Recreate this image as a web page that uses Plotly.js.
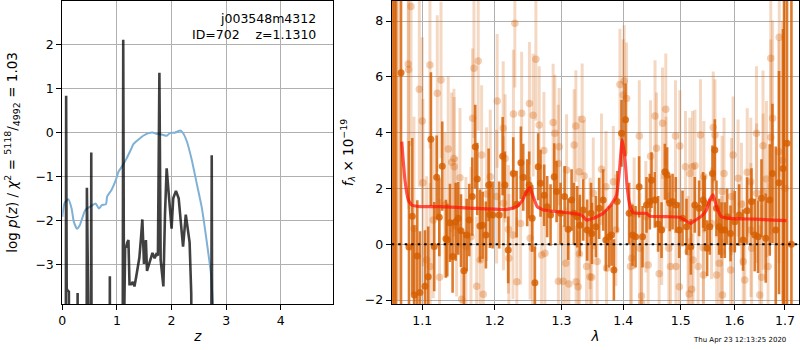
<!DOCTYPE html>
<html>
<head>
<meta charset="utf-8">
<script src="https://cdn.plot.ly/plotly-3.0.1.min.js"></script>
<style>body{margin:0;padding:0;background:#fff}#plot{width:800px;height:350px}</style>
</head>
<body>
<div id="plot"></div>
<script>
// ---- Left panel: redshift probability ----
const zPz = [0.00,0.060,0.070,0.080,0.100,0.120,0.135,0.270,0.280,0.290,0.440,0.450,0.460,0.520,0.530,0.540,0.860,0.870,0.880,1.060,1.080,1.100,1.115,1.130,1.150,1.170,1.190,1.210,1.230,1.260,1.290,1.320,1.350,1.380,1.410,1.440,1.465,1.495,1.530,1.550,1.600,1.650,1.690,1.720,1.750,1.777,1.800,1.820,1.850,1.880,1.910,1.960,2.000,2.030,2.080,2.130,2.170,2.210,2.260,2.300,2.330,2.360,2.380,2.720,2.735,2.750,4.960];
const logPz = [-9,-9,0.83,-3.55,-3.6,-3.62,-9,-9,-3.65,-9,-9,-1.26,-9,-9,-0.46,-9,-9,-3.27,-9,-9,-3.9,-9,2.10,-4.5,-2.6,-2.6,-2.5,-2.45,-3.45,-3.45,-3.4,-3.5,-3.3,-3.05,-2.85,-2.4,-1.98,-2.99,-2.45,-3.15,-2.93,-2.74,-2.86,-2.77,-2.8,1.35,-2.9,-3.1,-3.5,-1.84,-0.82,-1.58,-2.19,-1.5,-1.33,-1.5,-2.1,-2.6,-1.87,-2.2,-2.5,-3.66,-9,-9,-0.52,-9,-9];
const zChi = [0,0.04,0.11,0.17,0.21,0.27,0.32,0.42,0.51,0.61,0.67,0.72,0.80,0.82,0.90,0.98,1.03,1.09,1.17,1.26,1.30,1.39,1.48,1.58,1.67,1.74,1.82,1.91,1.97,2.06,2.16,2.20,2.28,2.37,2.46,2.55,2.64,2.72,2.77];
const chiScaled = [-1.92,-1.61,-1.52,-1.73,-2.03,-2.19,-2.11,-1.77,-1.69,-1.62,-1.73,-1.66,-1.63,-1.46,-1.31,-1.08,-0.89,-0.78,-0.61,-0.38,-0.27,-0.17,-0.08,-0.02,-0.01,-0.04,-0.05,-0.08,-0.02,-0.01,0.04,0.0,-0.21,-0.63,-1.16,-1.69,-2.45,-3.21,-4.2];
const zTicks = [0,1,2,3,4];
const logpTicks = [-3,-2,-1,0,1,2];

// ---- Right panel: G141 spectrum ----
const lamG = [1.0615,1.0640,1.0660,1.0723,1.0826,1.0869,1.0895,1.0934,1.0970,1.1036,1.1079,1.1115,1.1159,1.1192,1.1227,1.1267,1.1317,1.1335,1.1372,1.1408,1.1450,1.1485,1.1523,1.1564,1.1602,1.1638,1.1680,1.1722,1.1750,1.1788,1.1826,1.1873,1.1912,1.1930,1.1969,1.2064,1.2114,1.2147,1.2195,1.2269,1.2319,1.2382,1.2417,1.2476,1.2506,1.2551,1.2592,1.2642,1.2678,1.2733,1.2779,1.2831,1.2887,1.2924,1.2986,1.3049,1.3105,1.3159,1.3195,1.3247,1.3290,1.3343,1.3407,1.3470,1.3485,1.3548,1.3602,1.3667,1.3711,1.3766,1.3806,1.3844,1.3899,1.3972,1.4039,1.4100,1.4158,1.4209,1.4270,1.4329,1.4397,1.4454,1.4484,1.4541,1.4599,1.4659,1.4717,1.4758,1.4805,1.4854,1.4912,1.4972,1.5033,1.5105,1.5183,1.5256,1.5335,1.5409,1.5440,1.5483,1.5533,1.5583,1.5627,1.5658,1.5707,1.5753,1.5815,1.5859,1.5924,1.6006,1.6089,1.6166,1.6244,1.6330,1.6394,1.6460,1.6527,1.6612,1.6692,1.6746,1.6813,1.6879,1.6960,1.6981,1.7042,1.7132];
const fluxG = [-10,-10,-10,6.15,-0.10,1.01,-1.82,-0.42,-1.73,-1.50,-1.16,3.77,-0.08,2.40,0.97,2.80,0.20,0.15,0.77,-0.44,0.81,0.93,0.49,-0.95,0.33,0.87,1.71,3.50,2.34,0.66,0.68,0.33,2.13,1.07,1.05,1.05,3.16,2.13,-0.20,2.54,1.44,2.92,2.40,1.85,2.13,0.93,-1.38,2.78,2.19,1.76,1.35,1.05,2.42,1.89,1.11,1.71,0.54,1.59,1.11,0.99,0.68,1.23,0.51,1.11,0.39,0.63,1.29,1.59,0.15,0.27,0.33,-0.92,1.53,3.98,4.46,1.11,0.33,0.27,2.06,0.27,1.41,1.53,2.30,1.59,0.73,0.51,2.60,2.48,1.47,1.53,1.41,0.51,0.93,0.63,-0.09,1.41,1.29,1.59,1.47,-0.14,0.63,2.54,3.38,1.29,0.63,0.51,0.51,0.99,0.39,0.81,1.05,0.15,1.20,1.53,0.33,0.27,1.65,0.22,1.59,2.54,0.51,2.21,2.72,-10,3.62,0.00];
const errG = [40,40,40,20,3.8,2.8,2.5,2.0,2.2,2.0,1.8,2.4,1.6,1.5,1.4,1.6,1.4,1.3,1.4,1.3,1.4,1.3,1.3,1.4,1.3,1.3,1.4,1.5,1.3,1.3,1.2,1.2,1.3,1.2,1.2,1.2,1.4,1.2,1.2,1.3,1.2,1.3,1.2,1.2,1.2,1.2,1.3,1.2,1.2,1.1,1.1,1.1,1.2,1.1,1.1,1.1,1.1,1.1,1.1,1.1,1.1,1.1,1.1,1.1,1.1,1.1,1.1,1.1,1.1,1.1,1.1,1.1,1.1,1.2,1.3,1.1,1.1,1.1,1.1,1.1,1.0,1.0,1.0,1.0,1.0,1.0,1.0,1.0,1.0,1.0,1.0,1.0,1.0,1.0,1.0,1.0,1.0,1.0,1.0,1.0,1.0,1.0,1.1,1.0,1.0,1.0,1.0,1.0,1.0,1.1,1.1,1.1,1.2,1.2,1.3,1.3,1.4,1.6,2.0,2.5,3.0,4.0,5.0,40,40,40];

const lamL = [1.0640,1.0690,1.0817,1.0822,1.0852,1.0891,1.0961,1.1000,1.1009,1.1058,1.1102,1.1105,1.1146,1.1200,1.1230,1.1250,1.1304,1.1348,1.1395,1.1426,1.1430,1.1463,1.1509,1.1532,1.1592,1.1662,1.1685,1.1704,1.1742,1.1764,1.1792,1.1812,1.1835,1.1883,1.1935,1.2027,1.2035,1.2122,1.2126,1.2150,1.2198,1.2205,1.2265,1.2272,1.2293,1.2322,1.2378,1.2393,1.2510,1.2520,1.2557,1.2566,1.2607,1.2657,1.2694,1.2729,1.2744,1.2871,1.2897,1.2949,1.2952,1.2964,1.3027,1.3069,1.3080,1.3116,1.3199,1.3227,1.3230,1.3263,1.3279,1.3283,1.3327,1.3359,1.3398,1.3451,1.3455,1.3480,1.3506,1.3569,1.3640,1.3714,1.3723,1.3835,1.3877,1.3945,1.3999,1.4016,1.4056,1.4123,1.4140,1.4185,1.4273,1.4282,1.4311,1.4314,1.4385,1.4425,1.4467,1.4545,1.4571,1.4617,1.4662,1.4676,1.4734,1.4738,1.4788,1.4818,1.4907,1.4915,1.4975,1.4984,1.5087,1.5133,1.5152,1.5165,1.5199,1.5214,1.5225,1.5259,1.5317,1.5361,1.5412,1.5415,1.5422,1.5565,1.5598,1.5630,1.5661,1.5710,1.5756,1.5763,1.5771,1.5801,1.5927,1.5943,1.5962,1.5973,1.6069,1.6135,1.6169,1.6199,1.6247,1.6316,1.6319,1.6333,1.6428,1.6431,1.6493,1.6530,1.6558,1.6561,1.6626,1.6658,1.6712,1.6715,1.6749,1.6876,1.6883,1.6950,1.7000];
const fluxL = [-10,10,6.46,6.27,8.52,0.57,5.56,4.42,2.21,-0.56,6.43,-0.80,0.87,5.41,-1.18,5.89,1.41,3.42,2.94,3.08,2.78,0.63,2.39,-1.97,-0.09,0.27,4.52,6.31,-1.50,6.57,-0.56,3.20,-1.79,1.80,2.42,1.71,5.14,4.16,1.47,3.08,0.54,-0.50,0.33,4.67,7.92,-1.34,0.75,4.70,5.05,0.22,-0.14,4.63,6.63,4.28,-0.38,3.36,-0.32,4.37,3.98,2.90,-1.32,3.50,-1.32,-0.68,2.66,-1.42,3.56,4.24,-1.34,-1.52,2.60,-0.35,4.48,2.45,-0.80,-1.16,0.39,-1.18,1.83,-0.62,2.69,2.06,-0.86,2.24,0.51,5.73,5.35,5.85,5.23,-0.80,-0.50,1.11,3.88,-0.14,-1.85,-2.10,0.99,-0.74,3.16,4.60,3.44,-1.06,0.54,4.34,4.84,2.57,-0.14,-0.80,3.88,-0.80,-1.52,3.52,2.78,-0.27,-1.78,2.54,-1.61,2.78,-0.56,2.82,-0.80,3.92,-0.12,-1.10,2.42,0.75,4.19,3.92,-1.10,-0.68,-0.27,1.89,-1.82,2.54,-0.92,1.71,-0.14,3.20,2.37,1.44,-0.62,-1.28,2.58,2.24,0.51,-0.14,3.98,1.83,-1.82,-1.18,3.53,1.89,2.34,-0.80,6.67,3.84,4.52,3.32,7.42,3.0,2.0];
const errL = [40,12,5,5,5,4,3.5,3,3,3,3,3,2.8,2.8,2.8,2.8,2.6,2.6,2.5,2.5,2.5,2.5,2.5,2.5,2.5,2.5,2.5,2.5,2.5,2.5,2.5,2.5,2.5,2.4,2.4,2.4,2.4,2.4,2.4,2.3,2.3,2.3,2.3,2.3,2.3,2.3,2.2,2.2,2.2,2.2,2.2,2.2,2.2,2.1,2.1,2.1,2.1,2.1,2.1,2.1,2.1,2.1,2.0,2.0,2.0,2.0,2.0,2.0,2.0,2.0,2.0,2.0,2.0,2.0,2.0,2.0,2.0,2.0,2.0,2.0,2.0,2.0,2.0,2.0,2.0,2.0,2.0,2.0,2.0,2.0,2.0,2.0,2.0,2.0,2.0,2.0,2.0,2.0,2.0,2.0,2.0,2.0,2.0,2.0,2.0,2.0,2.0,2.0,2.0,2.0,2.0,2.0,2.0,2.0,2.0,2.0,2.0,2.0,2.0,2.0,2.0,2.0,2.0,2.0,2.0,2.0,2.0,2.0,2.0,2.0,2.0,2.0,2.0,2.0,2.0,2.1,2.1,2.1,2.1,2.2,2.2,2.2,2.3,2.3,2.4,2.4,2.4,2.5,2.5,2.6,2.7,2.8,2.8,3.0,3.2,3.5,3.5,4,5,5,10,12];

const lamModel = [1.0732,1.0774,1.0817,1.0861,1.0970,1.1236,1.1694,1.2172,1.2319,1.2393,1.2457,1.2517,1.2566,1.2627,1.2718,1.2924,1.3184,1.3317,1.3398,1.3504,1.3667,1.3749,1.3832,1.3889,1.3943,1.3982,1.4027,1.4066,1.4112,1.4168,1.4282,1.4397,1.4454,1.4747,1.4984,1.5074,1.5178,1.5256,1.5379,1.5472,1.5533,1.5595,1.5658,1.5753,1.5910,1.6428,1.6758,1.7030];
const fluxModel = [3.68,2.30,1.59,1.41,1.35,1.35,1.29,1.25,1.35,1.53,1.83,2.03,1.71,1.35,1.23,1.17,1.11,1.05,0.87,0.93,1.11,1.29,1.53,1.77,2.78,3.74,3.14,2.06,1.41,1.13,1.11,1.11,1.01,0.99,0.97,0.87,0.75,0.85,1.01,1.23,1.59,1.77,1.35,0.99,0.93,0.90,0.87,0.85];
const lamTicks = [1.1,1.2,1.3,1.4,1.5,1.6,1.7];
const lamTickText = ['1.1','1.2','1.3','1.4','1.5','1.6','1.7'];
const fluxTicks = [-2,0,2,4,6,8];

const ORANGE = 'rgba(213,94,0,0.82)';
const ORANGE_L = 'rgba(213,94,0,0.24)';
const ORANGE_LM = 'rgba(213,94,0,0.3)';

const traces = [
  {x: zChi, y: chiScaled, xaxis:'x', yaxis:'y', mode:'lines', line:{color:'#7fb1d6', width:2, shape:'spline', smoothing:0.5}, hoverinfo:'skip'},
  {x: zPz, y: logPz, xaxis:'x', yaxis:'y', mode:'lines', line:{color:'rgba(0,0,0,0.75)', width:2.6}, hoverinfo:'skip'},
  {x: lamL, y: fluxL, xaxis:'x2', yaxis:'y2', mode:'markers', marker:{color:ORANGE_LM, size:7.5},
   error_y:{type:'data', array:errL, visible:true, color:ORANGE_L, thickness:3, width:0}, hoverinfo:'skip'},
  {x: lamG, y: fluxG, xaxis:'x2', yaxis:'y2', mode:'markers', marker:{color:ORANGE, size:7},
   error_y:{type:'data', array:errG, visible:true, color:ORANGE, thickness:2.6, width:0}, hoverinfo:'skip'},
  {x: lamModel, y: fluxModel, xaxis:'x2', yaxis:'y2', mode:'lines', line:{color:'rgba(255,20,10,0.72)', width:3.2, shape:'spline', smoothing:0.4}, hoverinfo:'skip'}
];

const axBase = {showline:true, mirror:true, linecolor:'black', linewidth:1, ticks:'outside', ticklen:5, tickwidth:1, tickcolor:'black',
  showgrid:true, gridcolor:'#b0b0b0', gridwidth:1, zeroline:false, tickfont:{family:'DejaVu Sans', size:12.5, color:'black'}};
const yDom = [0.1314, 0.9971];

const layout = {
  width:800, height:350, margin:{l:0,r:0,t:0,b:0}, showlegend:false,
  paper_bgcolor:'white', plot_bgcolor:'white',
  font:{family:'DejaVu Sans', size:12.5, color:'black'},
  xaxis: Object.assign({}, axBase, {domain:[0.0779,0.4166], range:[0,4.96], tickmode:'array', tickvals:zTicks, anchor:'y',
    title:{text:'<i>z</i>', font:{size:13.5}, standoff:4}}),
  yaxis: Object.assign({}, axBase, {domain:yDom, range:[-3.9,2.98], tickmode:'array', tickvals:logpTicks, anchor:'x',
    title:{text:'log <i>p</i>(<i>z</i>) / <i>χ</i><sup>2</sup> = <sup>5118</sup>/<sub>4992</sub> = 1.03', font:{size:13.5}, standoff:14}}),
  xaxis2: Object.assign({}, axBase, {domain:[0.4896,0.9991], type:'log', range:[0.02545,0.2379], tickmode:'array', tickvals:lamTicks, ticktext:lamTickText, anchor:'y2',
    title:{text:'<i>λ</i>', font:{size:13.5}, standoff:4}}),
  yaxis2: Object.assign({}, axBase, {domain:yDom, range:[-2.14,8.72], tickmode:'array', tickvals:fluxTicks, anchor:'x2',
    title:{text:'<i>f</i><sub><i>λ</i></sub> × 10<sup>−19</sup>', font:{size:13.5}, standoff:8}}),
  shapes:[
    {type:'line', xref:'x2 domain', x0:0, x1:1, yref:'y2', y0:0, y1:0, line:{color:'black', width:2, dash:'2.5px,4px'}, layer:'above'}
  ],
  annotations:[
    {xref:'paper', yref:'paper', x:318/800, y:1-19/350, xanchor:'right', yanchor:'middle', showarrow:false, text:'j003548m4312', font:{size:12.5}},
    {xref:'paper', yref:'paper', x:318/800, y:1-34/350, xanchor:'right', yanchor:'middle', showarrow:false, text:'ID=702\u00a0\u00a0\u00a0\u00a0z=1.1310', font:{size:12.5}},
    {xref:'paper', yref:'paper', x:788/800, y:1-340/350, xanchor:'right', yanchor:'middle', showarrow:false, text:'Thu Apr 23 12:13:25 2020', font:{size:7}}
  ]
};

Plotly.newPlot('plot', traces, layout, {staticPlot:true, displayModeBar:false});
</script>
</body>
</html>
